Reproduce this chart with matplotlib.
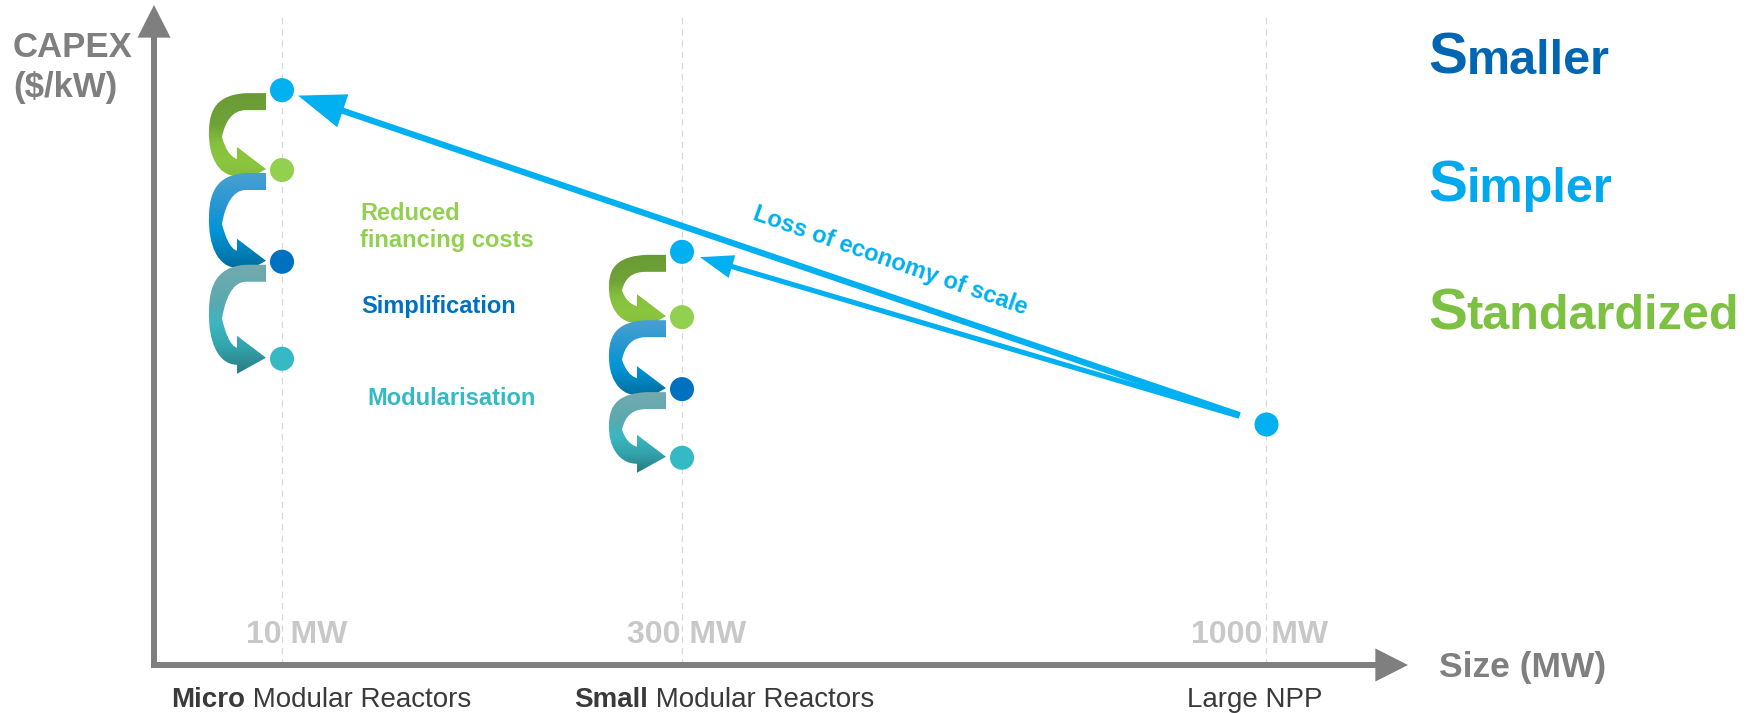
import numpy as np
import matplotlib
matplotlib.use("Agg")
import matplotlib.pyplot as plt
from matplotlib.patches import FancyArrowPatch, PathPatch, ArrowStyle
from matplotlib.path import Path
from matplotlib.colors import LinearSegmentedColormap

plt.rcParams["font.family"] = ["Liberation Sans", "DejaVu Sans"]

W, H, DPI = 1756, 713, 100

# size classes along the horizontal axis
size_labels = ["10 MW", "300 MW", "1000 MW"]
class_bold = ["Micro", "Small", ""]
class_rest = [" Modular Reactors", " Modular Reactors", "Large NPP"]
x_pos = [1.0, 2.0, 3.46]

# schematic CAPEX index: loss-of-scale point, then after each cost lever
micro_capex = [87.1, 75.0, 61.1, 46.4]
small_capex = [62.6, 52.7, 41.8, 31.4]
large_capex = [36.5]

step_colors = ["#00B0F0", "#92D050", "#0070C0", "#35B9C5"]
levers = ["Reduced\nfinancing costs", "Simplification", "Modularisation"]
lever_colors = ["#92D050", "#0070C0", "#35B9C5"]
swoosh_stops = [
    [(0.0, "#6A9A35"), (0.35, "#6FA338"), (0.55, "#86C13E"), (0.75, "#8CC63F"), (1.0, "#7AB83C")],
    [(0.0, "#4BA0D0"), (0.35, "#2196D2"), (0.55, "#0095D8"), (0.75, "#0080B8"), (1.0, "#005F8A")],
    [(0.0, "#74AAAF"), (0.35, "#5AA9AF"), (0.55, "#3BB7C0"), (0.75, "#33A3AC"), (1.0, "#287980")],
]

headline = [("S", "maller", "#0066B3"), ("S", "impler", "#00A8EE"),
            ("S", "tandardized", "#7DC142")]

fig = plt.figure(figsize=(W / DPI, H / DPI), dpi=DPI, facecolor="white")

# data axes: origin at the corner of the two axis arrows
ax = fig.add_axes([154 / W, (H - 665) / H, (1408 - 154) / W, (665 - 5) / H])
ax.set_xlim(0.68, 3.815)
ax.set_ylim(0, 100)
ax.axis("off")

# pixel overlay for annotations and the swoosh arrows
ov = fig.add_axes([0, 0, 1, 1], zorder=3)
ov.set_xlim(0, W)
ov.set_ylim(H, 0)
ov.axis("off")


def to_px(x, y):
    return ov.transData.inverted().transform(ax.transData.transform((x, y)))


# axis arrows
ax_style = ArrowStyle.Simple(head_length=23.5, head_width=23.8, tail_width=4.3)
for a, b in [((0, -0.0045), (0, 1)), ((-0.0024, 0), (1, 0))]:
    ax.add_patch(FancyArrowPatch(a, b, transform=ax.transAxes, arrowstyle=ax_style,
                                 mutation_scale=1, shrinkA=0, shrinkB=0,
                                 color="#7F7F7F", lw=0, clip_on=False, zorder=2))

# dashed guides at each size class
ax.vlines(x_pos, 0, 98.2, colors="#D9D9D9", linestyles=(0, (5, 4)), lw=0.9, zorder=1)

# CAPEX steps
ax.scatter([x_pos[0]] * 4, micro_capex, s=300, c=step_colors, lw=0, zorder=5, clip_on=False)
ax.scatter([x_pos[1]] * 4, small_capex, s=300, c=step_colors, lw=0, zorder=5, clip_on=False)
ax.scatter([x_pos[2]], large_capex, s=300, c=step_colors[0], lw=0, zorder=5, clip_on=False)

# loss of economy of scale
for xt, target, hl, hw, tw, sb in [(x_pos[0], micro_capex[0], 34, 25, 4.5, 12.2),
                                   (x_pos[1], small_capex[0], 24, 17, 3.7, 13.5)]:
    ax.add_patch(FancyArrowPatch((x_pos[2], large_capex[0]), (xt, target),
                                 arrowstyle=ArrowStyle.Simple(head_length=hl, head_width=hw,
                                                              tail_width=tw),
                                 mutation_scale=1, shrinkA=20, shrinkB=sb,
                                 color="#00B0F0", lw=0, clip_on=False, zorder=4))

M, L, C, Z = Path.MOVETO, Path.LINETO, Path.CURVE4, Path.CLOSEPOLY


def swoosh(cx, ys, ye, stops):
    h = ye - ys
    xr, xl, xb = cx - 16, cx - 73, cx - 45
    verts = [
        (xr, ys), (cx - 35, ys),
        (cx - 62, ys + 1), (xl, ys + 0.18 * h), (xl, ys + 0.5 * h),
        (xl - 1, ys + 0.82 * h), (cx - 64, ye + 7), (xb, ye + 7),
        (xb, ye + 16), (xr, ye), (xb, ye - 22), (xb, ye - 10),
        (cx - 52, ye - 12), (cx - 57, ys + 0.72 * h), (cx - 60, ys + 0.58 * h),
        (cx - 57, ys + 0.38 * h), (cx - 50, ys + 17), (cx - 36, ys + 17),
        (xr, ys + 17), (xr, ys),
    ]
    codes = [M, L, C, C, C, C, C, C, L, L, L, L, C, C, C, C, C, C, L, Z]
    patch = PathPatch(Path(verts, codes), facecolor="none", edgecolor="none")
    ov.add_patch(patch)
    cmap = LinearSegmentedColormap.from_list("sw", stops)
    grad = np.linspace(0, 1, 256).reshape(-1, 1)
    im = ov.imshow(grad, cmap=cmap, extent=(xl - 3, xr + 2, ye + 17, ys - 1),
                   aspect="auto", origin="upper", interpolation="bilinear", zorder=2)
    im.set_clip_path(patch)


for xc, vals in [(x_pos[0], micro_capex), (x_pos[1], small_capex)]:
    for i in range(3):
        cx, y0 = to_px(xc, vals[i])
        _, y1 = to_px(xc, vals[i + 1])
        swoosh(cx, y0 + 3, y1 - 1, swoosh_stops[i])

ov.set_xlim(0, W)
ov.set_ylim(H, 0)

# lever labels
lever_base = [220, 313, 405]
lever_x = [360, 361, 367]
for txt, col, yb, xl in zip(levers, lever_colors, lever_base, lever_x):
    for k, line in enumerate(txt.split("\n")):
        ov.text(xl, yb + 27 * k, line, fontsize=17, fontweight="bold", color=col,
                ha="left", va="baseline")

ov.text(890, 261, "Loss of economy of scale", fontsize=17, fontweight="bold",
        color="#00B0F0", rotation=-19.3, rotation_mode="anchor",
        ha="center", va="center")

# axis titles
ov.text(13, 57, "CAPEX", fontsize=25, fontweight="bold", color="#7F7F7F", va="baseline")
ov.text(13, 97, "($/kW)", fontsize=25, fontweight="bold", color="#7F7F7F", va="baseline")
ov.text(1439, 677, "Size (MW)", fontsize=25.5, fontweight="bold", color="#7F7F7F",
        va="baseline")

# size tick labels
tick_dx = [15, 5, -6]
for xv, lab, dx in zip(x_pos, size_labels, tick_dx):
    ax.annotate(lab, xy=(xv, 0), xytext=(dx, 22), textcoords="offset pixels",
                ha="center", va="baseline", fontsize=23, fontweight="bold",
                color="#C8C8C8", zorder=3, annotation_clip=False)

renderer = fig.canvas.get_renderer()


def two_part(x, y, first, second, s1, s2, col, w1, w2):
    t = ov.text(x, y, first, fontsize=s1, fontweight=w1, color=col,
                ha="left", va="baseline")
    x1 = t.get_window_extent(renderer).x1 if first else ov.transData.transform((x, y))[0]
    xr = ov.transData.inverted().transform((x1, 0))[0]
    ov.text(xr, y, second, fontsize=s2, fontweight=w2, color=col,
            ha="left", va="baseline")


# category names under the axis
class_x = [171, 574, 1187]
for xl, b, r in zip(class_x, class_bold, class_rest):
    two_part(xl, 707, b, r, 20, 20, "#3A3A3A", "bold", "normal")

# headline
for (s, rest, col), yb in zip(headline, [74, 202, 329]):
    two_part(1428, yb, s, rest, 42, 35, col, "bold", "bold")

fig.savefig("out.png", dpi=DPI, facecolor="white")
